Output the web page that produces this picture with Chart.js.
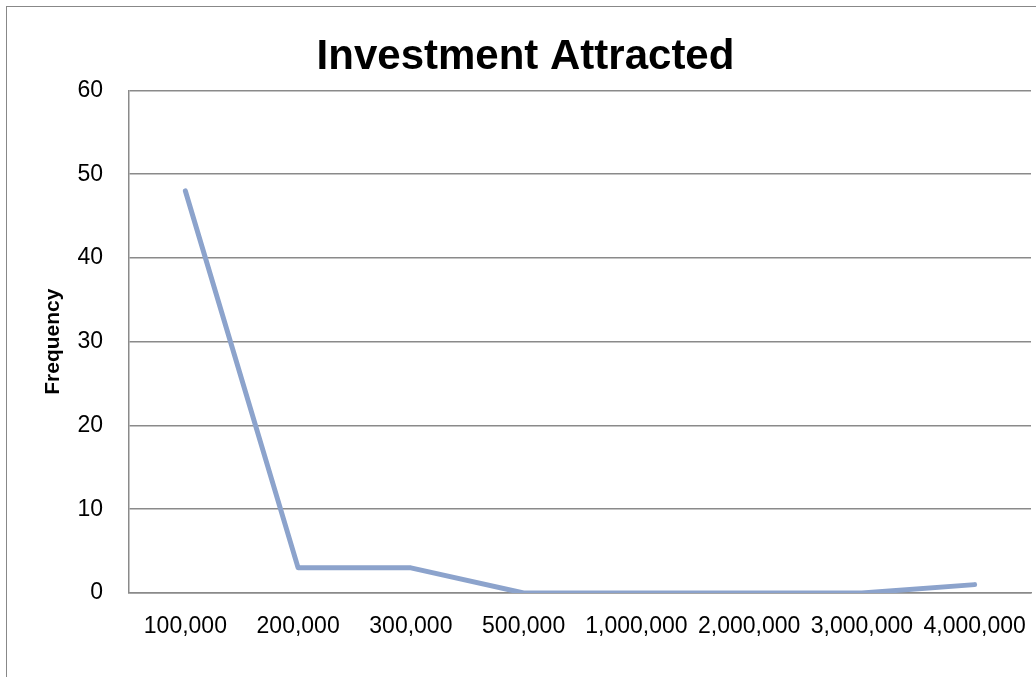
<!DOCTYPE html>
<html>
<head>
<meta charset="utf-8">
<title>Investment Attracted</title>
<script src="https://cdn.jsdelivr.net/npm/chart.js@4"></script>
<style>
  html, body { margin:0; padding:0; background:#fff; overflow:hidden; }
  #frame { position:absolute; left:6px; top:6px; width:2000px; height:2000px;
           border:1.5px solid #888; box-sizing:border-box; }
  #wrap { position:absolute; left:0; top:0; width:1036px; height:677px; }
</style>
</head>
<body>
<div id="frame"></div>
<div id="wrap"><canvas id="chartInvest" width="1036" height="677"></canvas></div>
<script>
// ── data ──────────────────────────────────────────────────────────────────────
const bins      = ['100,000','200,000','300,000','500,000','1,000,000','2,000,000','3,000,000','4,000,000'];
const frequency = [48, 3, 3, 0, 0, 0, 0, 1];
const yTicks    = [0, 10, 20, 30, 40, 50, 60];

const GRID = '#8a8a8a';
Chart.defaults.font.family = '"Liberation Sans", Arial, sans-serif';
Chart.defaults.color = '#000';

new Chart(document.getElementById('chartInvest').getContext('2d'), {
  type: 'line',
  data: {
    labels: bins,
    datasets: [{
      label: 'Frequency',
      data: frequency,
      borderColor: '#8ca3cc',
      borderWidth: 5,
      borderCapStyle: 'round',
      borderJoinStyle: 'round',
      pointRadius: 0,
      tension: 0,
      fill: false
    }]
  },
  options: {
    responsive: false,
    animation: false,
    layout: { padding: { left: 20, right: 5, top: 0, bottom: 0 } },
    plugins: {
      legend: { display: false },
      tooltip: { enabled: false },
      title: {
        display: true,
        text: 'Investment Attracted',
        font: { size: 42, weight: 'bold' },
        color: '#000',
        padding: { top: 32, bottom: 8 }
      }
    },
    scales: {
      x: {
        offset: true,
        grid: { display: false, drawTicks: false },
        border: { display: true, color: GRID, width: 1.5 },
        ticks: { font: { size: 23 }, padding: 20, maxRotation: 0, autoSkip: false },
        afterFit(s) { s.height = 84; s.paddingLeft = 0; s.paddingRight = 0; }
      },
      y: {
        min: 0, max: 60,
        afterBuildTicks(s) { s.ticks = yTicks.map(v => ({ value: v })); },
        grid: { color: GRID, lineWidth: 1.5, drawTicks: false },
        border: { display: true, color: GRID, width: 1.5 },
        ticks: { font: { size: 23 }, padding: 26 },
        title: {
          display: true,
          text: 'Frequency',
          font: { size: 21, weight: 'bold' },
          padding: { top: 21, bottom: 0 }
        },
        afterFit(s) { s.width = 109; }
      }
    }
  }
});
</script>
</body>
</html>
